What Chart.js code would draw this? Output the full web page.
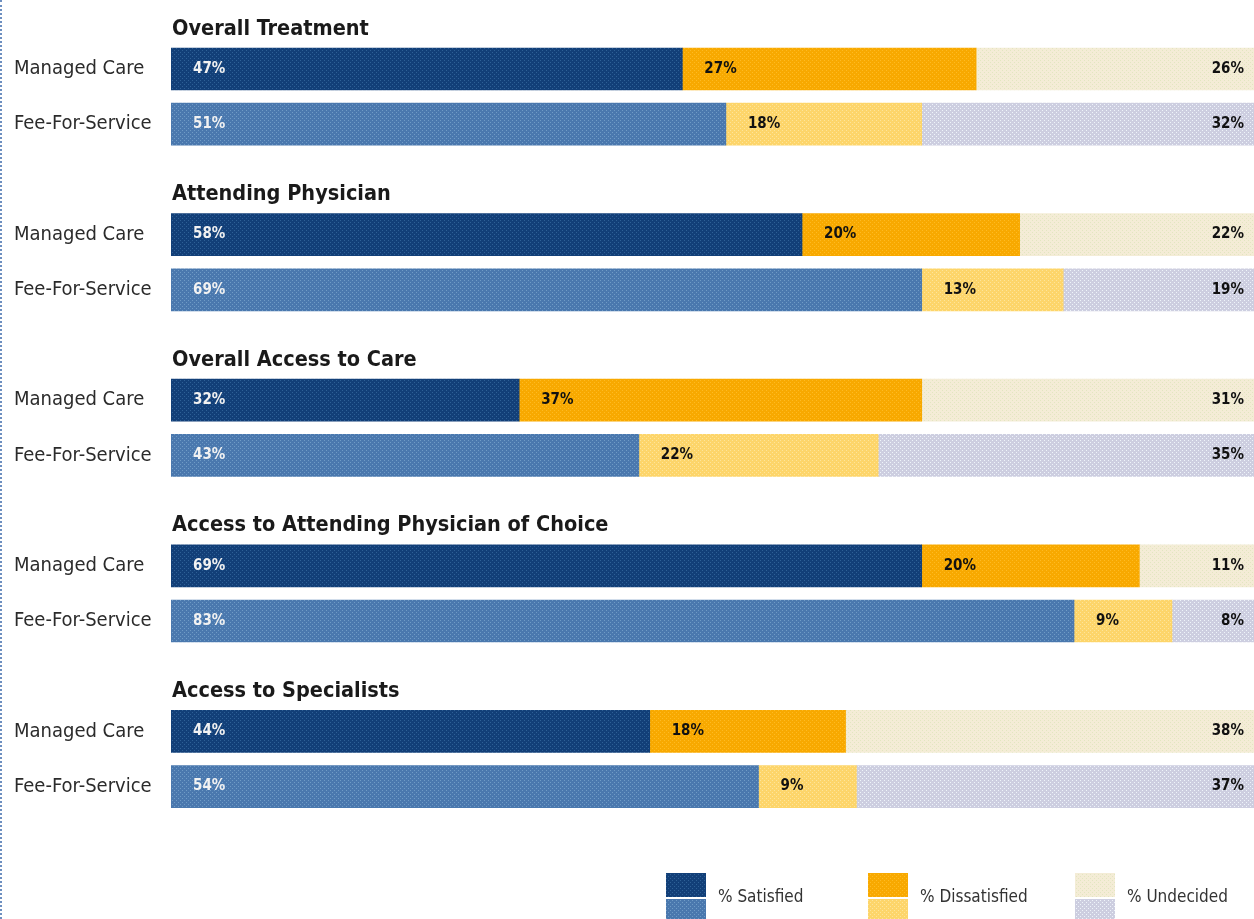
<!DOCTYPE html>
<html>
<head>
<meta charset="utf-8">
<script src="https://cdn.jsdelivr.net/npm/chart.js@4.4.0/dist/chart.umd.min.js"></script>
<style>
  html, body { margin: 0; padding: 0; background: #fff; overflow: hidden; }
  #wrap { position: relative; width: 1260px; height: 919px; }
  #edge { position: absolute; left: 0; top: 0; height: 919px; border-left: 2px dotted #6d8fc0; }
</style>
</head>
<body>
<div id="wrap">
  <canvas id="chart" width="1260" height="919"></canvas>
  <div id="edge"></div>
</div>
<script>
// data
const groups = ["Overall Treatment", "Attending Physician", "Overall Access to Care", "Access to Attending Physician of Choice", "Access to Specialists"];
const plans = ["Managed Care", "Fee-For-Service"];
const satisfiedMC = [47, 58, 32, 69, 44];
const satisfiedFFS = [51, 69, 43, 83, 54];
const dissatisfiedMC = [27, 20, 37, 20, 18];
const dissatisfiedFFS = [18, 13, 22, 9, 9];
const undecidedMC = [26, 22, 31, 11, 38];
const undecidedFFS = [32, 19, 35, 8, 37];
const legendLabels = ["% Satisfied", "% Dissatisfied", "% Undecided"];

const FONT = '"Liberation Sans Narrow", "DejaVu Sans Condensed", "Liberation Sans", sans-serif';

// dotted fill like the print screen
function dots(base, dot) {
  const c = document.createElement('canvas');
  c.width = 4; c.height = 4;
  const g = c.getContext('2d');
  g.fillStyle = base;
  g.fillRect(0, 0, 4, 4);
  g.fillStyle = dot;
  g.fillRect(0, 0, 1, 1);
  g.fillRect(2, 2, 1, 1);
  return g.createPattern(c, 'repeat');
}

const colMC = [dots('#123f78', '#2e6096'), dots('#f8a900', '#ffbb22'), dots('#f4ecd6', '#e2e6c0')];
const colFFS = [dots('#4a78ae', '#6f9bc6'), dots('#fdd56a', '#fee59a'), dots('#cdcee0', '#eef4fa')];

// rows: MC, FFS, spacer per group (no spacer after last)
const labels = [];
const rowType = [];
const sat = [], dis = [], und = [];
groups.forEach(function(gname, i) {
  labels.push(plans[0]); rowType.push('mc');
  sat.push(satisfiedMC[i]); dis.push(dissatisfiedMC[i]); und.push(undecidedMC[i]);
  labels.push(plans[1]); rowType.push('ffs');
  sat.push(satisfiedFFS[i]); dis.push(dissatisfiedFFS[i]); und.push(undecidedFFS[i]);
  if (i < groups.length - 1) {
    labels.push(''); rowType.push('gap');
    sat.push(null); dis.push(null); und.push(null);
  }
});

function colorsFor(k) {
  return rowType.map(function(t) { return t === 'ffs' ? colFFS[k] : colMC[k]; });
}

const overlay = {
  id: 'overlay',
  afterDatasetsDraw: function(chart) {
    const ctx = chart.ctx;
    const x = chart.scales.x, y = chart.scales.y;
    ctx.save();
    // group titles
    ctx.fillStyle = '#1a1a1a';
    ctx.font = 'bold 21.5px ' + FONT;
    ctx.textAlign = 'left';
    ctx.textBaseline = 'middle';
    groups.forEach(function(gname, i) {
      ctx.fillText(gname, x.left + 1, y.getPixelForValue(i * 3) - 40);
    });
    // value labels
    ctx.font = 'bold 15px ' + FONT;
    labels.forEach(function(l, r) {
      if (rowType[r] === 'gap') return;
      const cy = y.getPixelForValue(r);
      ctx.textAlign = 'left';
      ctx.fillStyle = '#f2f2f2';
      ctx.fillText(sat[r] + '%', x.getPixelForValue(0) + 22, cy);
      ctx.fillStyle = '#111';
      ctx.fillText(dis[r] + '%', x.getPixelForValue(sat[r]) + 22, cy);
      ctx.textAlign = 'right';
      ctx.fillText(und[r] + '%', x.getPixelForValue(100) - 15, cy);
    });
    // legend
    const lx = [666, 868, 1075];
    ctx.font = '17px ' + FONT;
    ctx.textAlign = 'left';
    legendLabels.forEach(function(t, k) {
      ctx.fillStyle = colMC[k];
      ctx.fillRect(lx[k], 873, 40, 24);
      ctx.fillStyle = colFFS[k];
      ctx.fillRect(lx[k], 899, 40, 24);
      ctx.fillStyle = '#333';
      ctx.fillText(t, lx[k] + 52, 898);
    });
    ctx.restore();
  }
};

const chart = new Chart(document.getElementById('chart'), {
  type: 'bar',
  data: {
    labels: labels,
    datasets: [
      { label: legendLabels[0], data: sat, backgroundColor: colorsFor(0) },
      { label: legendLabels[1], data: dis, backgroundColor: colorsFor(1) },
      { label: legendLabels[2], data: und, backgroundColor: colorsFor(2) }
    ]
  },
  options: {
    indexAxis: 'y',
    responsive: false,
    animation: false,
    layout: { padding: { top: 41.4, bottom: 104.8, right: 1, left: 14 } },
    datasets: { bar: { barThickness: 42, borderWidth: 0 } },
    plugins: { legend: { display: false }, tooltip: { enabled: false } },
    scales: {
      x: { stacked: true, min: 0, max: 100, display: false },
      y: {
        stacked: true,
        grid: { display: false },
        border: { display: false },
        ticks: {
          crossAlign: 'far',
          padding: 0,
          color: '#2b2b2b',
          font: { family: FONT, size: 20 }
        },
        afterFit: function(s) { s.width = 157; }
      }
    }
  },
  plugins: [overlay]
});
</script>
</body>
</html>
